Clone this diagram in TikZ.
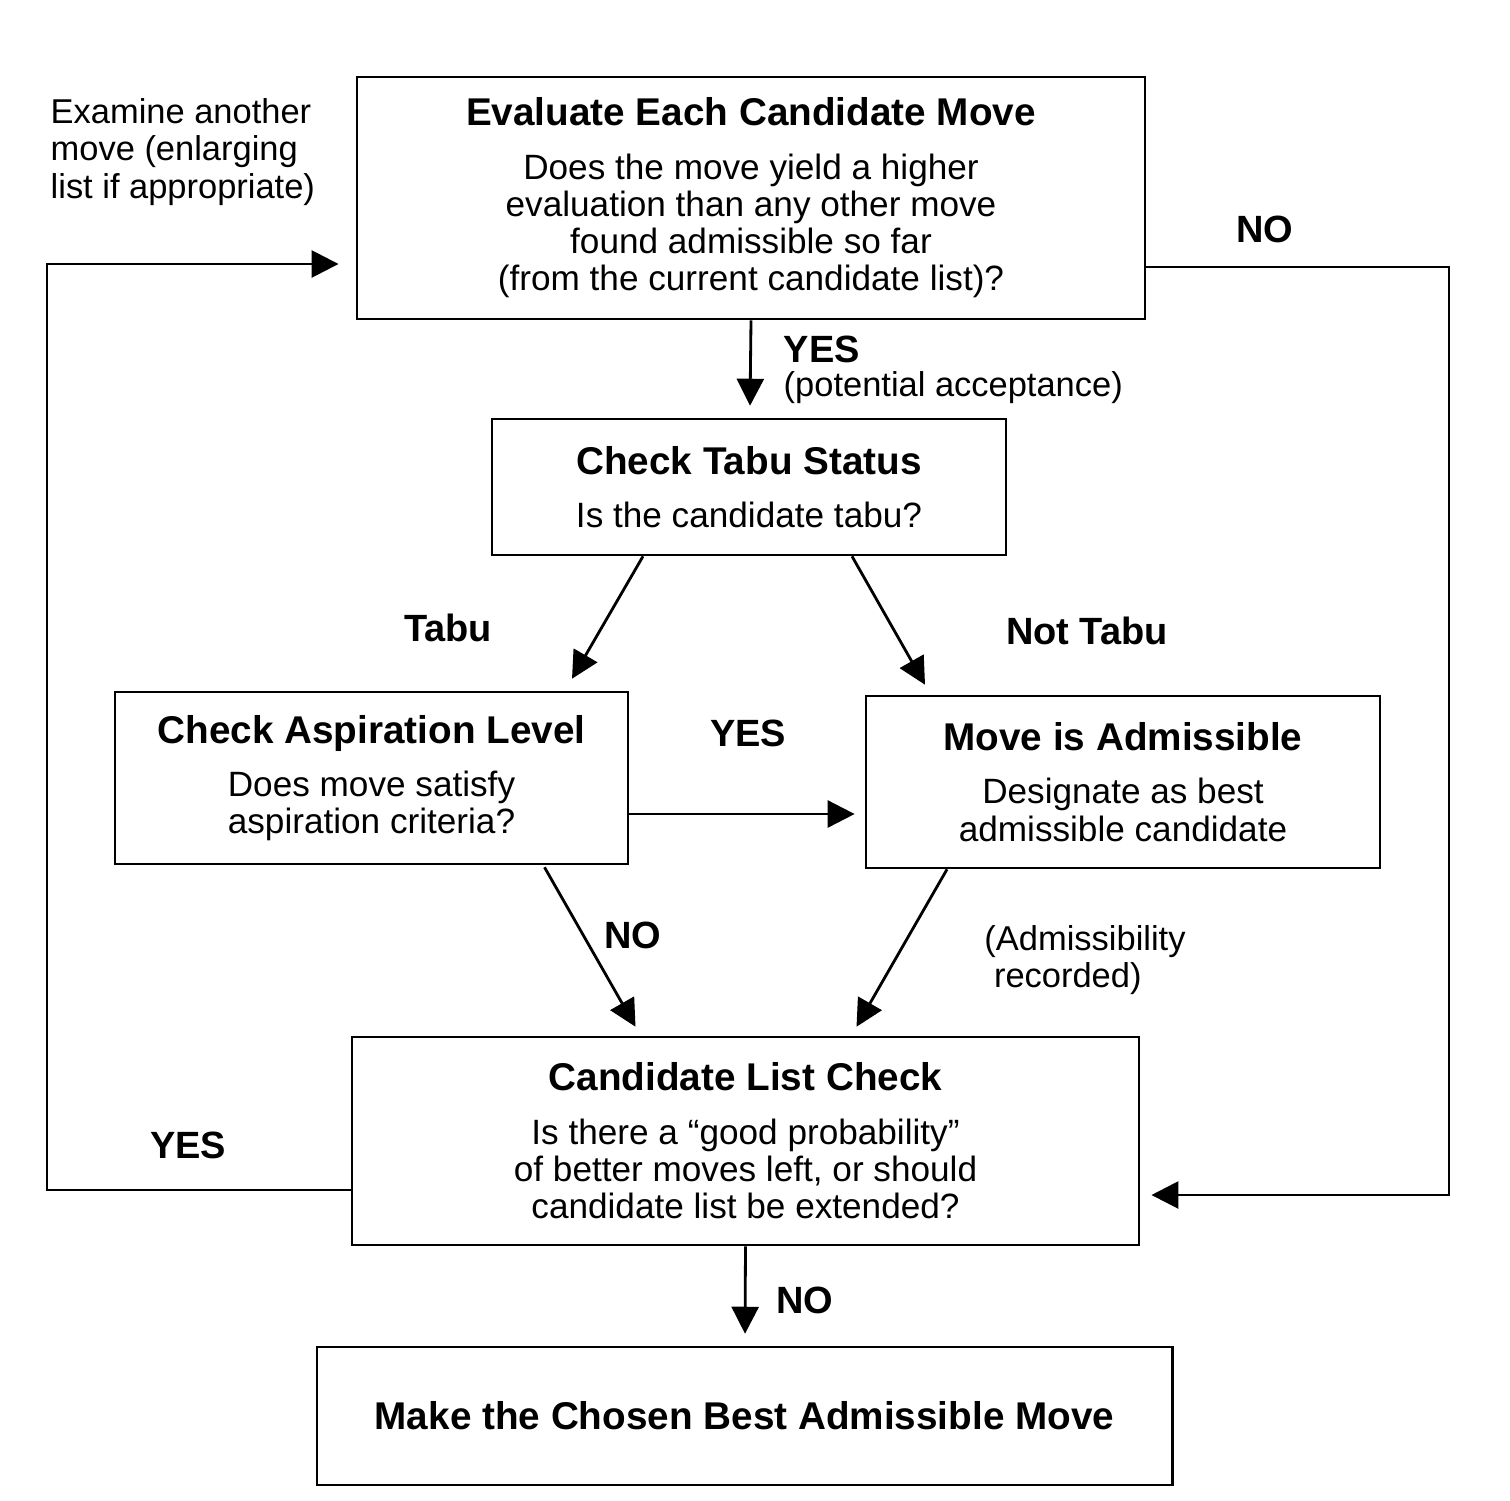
\documentclass[tikz,border=0pt]{standalone}
\usepackage{fontspec}
\setmainfont{Liberation Sans}
\usetikzlibrary{arrows.meta,calc}
\begin{document}
\begin{tikzpicture}[x=0.01cm,y=-0.01cm,
  box/.style={draw, line width=0.7pt, align=center, inner sep=0pt, font=\fontsize{10}{10.6}\selectfont},
  lbl/.style={inner sep=0pt, font=\fontsize{9.8}{10.6}\selectfont},
  blbl/.style={inner sep=0pt, font=\fontsize{10.8}{11}\selectfont\bfseries},
  conn/.style={line width=0.8pt, -{Triangle[length=2.7mm,width=2.7mm]}}]
\useasboundingbox (0,0) rectangle (1510,1500);
\newcommand{\ttlfont}{\fontsize{11}{11}\selectfont\bfseries}

\node[box, minimum width=7.88cm, minimum height=2.42cm] (eval) at (751,198)
  {{\ttlfont Evaluate Each Candidate Move}\\[1.6mm]
   Does the move yield a higher\\ evaluation than any other move\\ found admissible so far\\ (from the current candidate list)?};
\node[box, minimum width=5.14cm, minimum height=1.36cm] (tabu) at (749,487)
  {{\ttlfont Check Tabu Status}\\[1.6mm] Is the candidate tabu?};
\node[box, minimum width=5.13cm, minimum height=1.72cm] (asp) at (371.5,778)
  {{\ttlfont Check Aspiration Level}\\[1.6mm] Does move satisfy\\ aspiration criteria?};
\node[box, minimum width=5.14cm, minimum height=1.72cm] (adm) at (1123,782)
  {{\ttlfont Move is Admissible}\\[1.6mm] Designate as best\\ admissible candidate};
\node[box, minimum width=7.87cm, minimum height=2.08cm] (cand) at (745.5,1141)
  {{\ttlfont Candidate List Check}\\[1.6mm] Is there a ``good probability''\\ of better moves left, or should\\ candidate list be extended?};
\node[box, minimum width=8.55cm, minimum height=1.38cm] (make) at (744.5,1416)
  {{\ttlfont Make the Chosen Best Admissible Move}};

% connectors
\draw[conn] (eval.south) -- ($(tabu.north)+(1,-12)$);
\node[blbl, anchor=west] (yes1) at (783,349) {YES};
\node[lbl, anchor=west] (pot) at (783,388) {(potential acceptance)};

\draw[conn] ($(tabu.south)+(-106,0)$) -- ($(asp.north)+(200.5,-12)$);
\node[blbl] (ltabu) at (448,628) {Tabu};
\draw[conn] ($(tabu.south)+(103,0)$) -- ($(adm.north)+(-198,-10)$);
\node[blbl] (lnottabu) at (1087,631) {Not Tabu};

\draw[conn] (asp.east |- 0,814) -- ($(adm.west)+(-10,32)$);
\node[blbl] (yes2) at (748,733) {YES};

\draw[conn] ($(asp.south)+(173,2)$) -- ($(cand.north)+(-110,-9)$);
\node[blbl] (no1) at (633,935) {NO};
\draw[conn] ($(adm.south)+(-176,0)$) -- ($(cand.north)+(111,-9)$);
\node[lbl, align=left] (admrec) at (1085,960) {(Admissibility\\ \ recorded)};

\draw[conn] (cand.south) -- ($(make.north)+(0.5,-12)$);
\node[blbl] (no2) at (805,1300) {NO};

% left loop
\coordinate (l1) at (47,1190);
\coordinate (l2) at (47,264);
\draw[conn] ($(cand.west)+(0,49)$) -- (l1) -- (l2) -- ($(eval.west)+(-17,66)$);
\node[blbl] (yes3) at (188,1145) {YES};
\node[lbl, align=left, anchor=north west] (exam) at (50,98)
  {Examine another\\ move (enlarging\\ list if appropriate)};

% right loop
\coordinate (r1) at (1449,267);
\coordinate (r2) at (1449,1195);
\draw[conn] ($(eval.east)+(0,69)$) -- (r1) -- (r2) -- ($(cand.east)+(11,54)$);
\node[blbl] (no3) at (1265,229) {NO};
\end{tikzpicture}
\end{document}
